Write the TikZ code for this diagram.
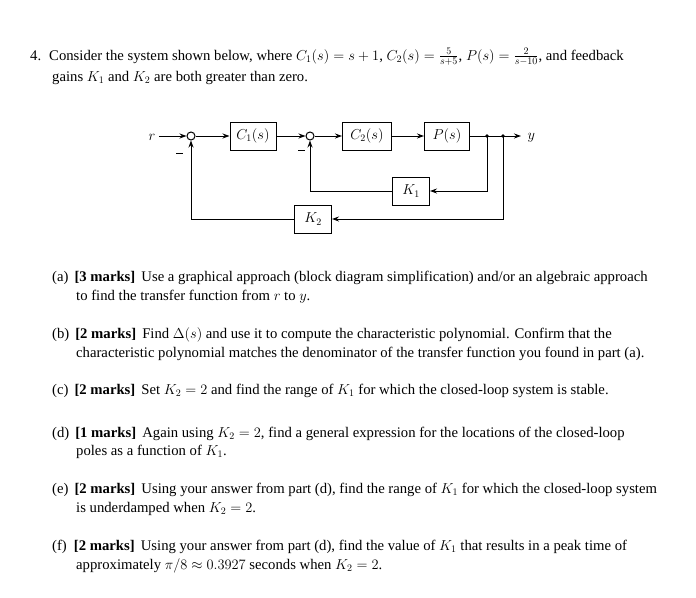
\documentclass[tikz,border=0pt]{standalone}
\usepackage{fontspec}
\setmainfont{Liberation Serif}
\usetikzlibrary{arrows.meta}
\begin{document}
\begin{tikzpicture}[x=1pt,y=-1pt,
  txt/.style={anchor=base west,inner sep=0pt,font=\fontsize{14.7}{16}\selectfont},
  blk/.style={draw,line width=1pt,minimum width=#1,minimum height=28pt,inner sep=0pt,font=\fontsize{14}{16}\selectfont},
  sumc/.style={draw,circle,line width=1pt,minimum size=8pt,inner sep=0pt},
  wire/.style={line width=1pt,-{Stealth[length=7pt,width=5pt]}},
  ln/.style={line width=1pt}]
\useasboundingbox (0,0) rectangle (696,597);
\node[txt] (q1) at (30,60) {4.\hspace{8pt}Consider the system shown below, where $C_1(s)=s+1$, $C_2(s)=\frac{5}{s+5}$, $P(s)=\frac{2}{s-10}$, and feedback};
\node[txt] (q2) at (52,81) {gains $K_1$ and $K_2$ are both greater than zero.};
% diagram
\node[anchor=base] (r) at (152,140) {\fontsize{15}{16}\selectfont $r$};
\node[sumc] (s1) at (191,136) {};
\node[blk=46pt] (c1) at (253,136) {$C_1(s)$};
\node[sumc] (s2) at (310,136) {};
\node[blk=49pt] (c2) at (367,136) {$C_2(s)$};
\node[blk=45pt] (p) at (447,136) {$P(s)$};
\coordinate (j1) at (487,136);
\coordinate (j2) at (503,136);
\coordinate (ye) at (521,136);
\node[anchor=west] (y) at (524,138) {\fontsize{15}{16}\selectfont $y$};
\node[blk=37pt] (k1) at (411,191) {$K_1$};
\node[blk=37pt] (k2) at (313,219) {$K_2$};
\fill (j1) circle (1.8pt) (j2) circle (1.8pt);
\draw[wire] (r.east|-s1) -- (s1);
\draw[wire] (s1) -- (c1);
\draw[wire] (c1) -- (s2);
\draw[wire] (s2) -- (c2);
\draw[wire] (c2) -- (p);
\draw[ln] (p) -- (j1);
\draw[wire] (j1) -- (ye);
\draw[wire] (j1) |- (k1);
\draw[wire] (j2) |- (k2);
\draw[wire] (k1) -| (s2);
\draw[wire] (k2) -| (s1);
\coordinate (m1a) at (176,153); \coordinate (m1b) at (183,153);
\coordinate (m2a) at (298,150); \coordinate (m2b) at (305,150);
\draw[ln] (m1a) -- (m1b);
\draw[ln] (m2a) -- (m2b);
% parts
\node[txt] (a1) at (52,281) {(a)\hspace{6pt}\textbf{[3 marks]}\, Use a graphical approach (block diagram simplification) and/or an algebraic approach};
\node[txt] (a2) at (76,300) {to find the transfer function from $r$ to $y$.};
\node[txt] (b1) at (52,338) {(b)\hspace{6pt}\textbf{[2 marks]}\, Find $\Delta(s)$ and use it to compute the characteristic polynomial. Confirm that the};
\node[txt] (b2) at (76,357) {characteristic polynomial matches the denominator of the transfer function you found in part (a).};
\node[txt] (c) at (52,394) {(c)\hspace{6pt}\textbf{[2 marks]}\, Set $K_2=2$ and find the range of $K_1$ for which the closed-loop system is stable.};
\node[txt] (d1) at (52,437) {(d)\hspace{6pt}\textbf{[1 marks]}\, Again using $K_2=2$, find a general expression for the locations of the closed-loop};
\node[txt] (d2) at (76,455) {poles as a function of $K_1$.};
\node[txt] (e1) at (52,493) {(e)\hspace{6pt}\textbf{[2 marks]}\, Using your answer from part (d), find the range of $K_1$ for which the closed-loop system};
\node[txt] (e2) at (76,512) {is underdamped when $K_2=2$.};
\node[txt] (f1) at (52,550) {(f)\hspace{7pt}\textbf{[2 marks]}\, Using your answer from part (d), find the value of $K_1$ that results in a peak time of};
\node[txt] (f2) at (76,569) {approximately $\pi/8\approx0.3927$ seconds when $K_2=2$.};
\end{tikzpicture}
\end{document}
